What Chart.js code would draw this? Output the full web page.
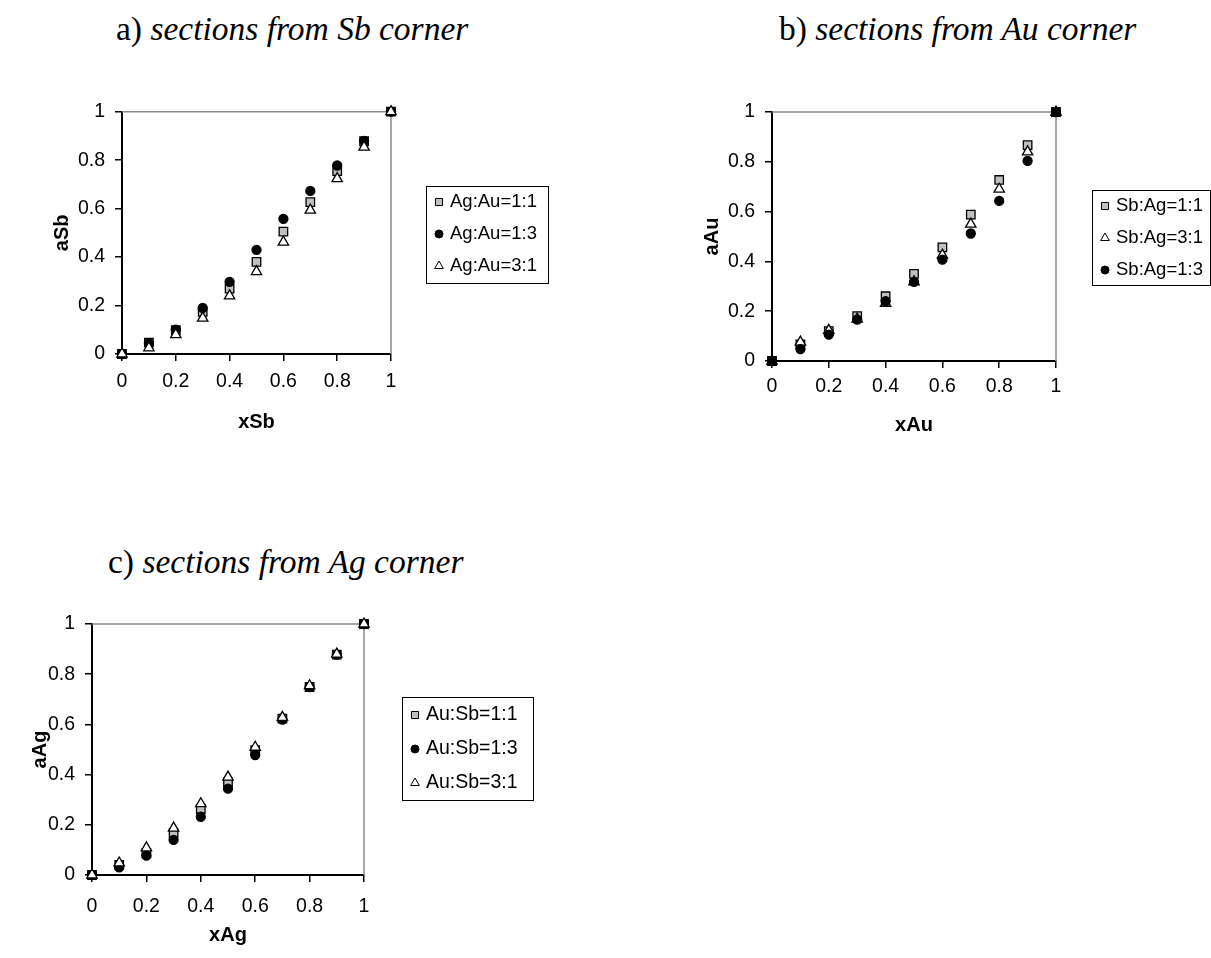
<!DOCTYPE html>
<html>
<head>
<meta charset="utf-8">
<script src="https://cdn.jsdelivr.net/npm/chart.js@4.4.1/dist/chart.umd.min.js"></script>
<style>
  body { margin: 0; background: #fff; width: 1211px; height: 958px; position: relative; overflow: hidden; }
  .title { position: absolute; font-family: "Liberation Serif", "Times New Roman", serif; font-size: 33.5px; line-height: 1; white-space: nowrap; color: #000; }
  .box { position: absolute; }
</style>
</head>
<body>

<div class="title" style="left:116px;top:12px">a) <i>sections from Sb corner</i></div>
<div class="title" style="left:779px;top:12px">b) <i>sections from Au corner</i></div>
<div class="title" style="left:108px;top:545px">c) <i>sections from Ag corner</i></div>

<div class="box" style="left:30px;top:90px;width:530px;height:360px"><canvas id="chartA"></canvas></div>
<div class="box" style="left:680px;top:90px;width:531px;height:360px"><canvas id="chartB"></canvas></div>
<div class="box" style="left:0px;top:590px;width:560px;height:368px"><canvas id="chartC"></canvas></div>

<script>
// ---- data ----
const xValues = [0, 0.1, 0.2, 0.3, 0.4, 0.5, 0.6, 0.7, 0.8, 0.9, 1];

// a) sections from Sb corner
const sbLabels = ['Ag:Au=1:1', 'Ag:Au=1:3', 'Ag:Au=3:1'];
const sbAgAu11 = [0, 0.047, 0.098, 0.174, 0.27, 0.38, 0.505, 0.627, 0.755, 0.878, 1];
const sbAgAu13 = [0, 0.045, 0.101, 0.19, 0.298, 0.43, 0.558, 0.673, 0.778, 0.88, 1];
const sbAgAu31 = [0, 0.025, 0.08, 0.148, 0.24, 0.34, 0.462, 0.594, 0.724, 0.854, 1];

// b) sections from Au corner
const auLabels = ['Sb:Ag=1:1', 'Sb:Ag=3:1', 'Sb:Ag=1:3'];
const auSbAg11 = [0, 0.067, 0.12, 0.18, 0.26, 0.35, 0.456, 0.588, 0.727, 0.867, 1];
const auSbAg31 = [0, 0.076, 0.123, 0.168, 0.232, 0.318, 0.425, 0.55, 0.69, 0.84, 1];
const auSbAg13 = [0, 0.048, 0.106, 0.166, 0.24, 0.318, 0.407, 0.512, 0.643, 0.804, 1];

// c) sections from Ag corner
const agLabels = ['Au:Sb=1:1', 'Au:Sb=1:3', 'Au:Sb=3:1'];
const agAuSb11 = [0, 0.04, 0.088, 0.167, 0.263, 0.37, 0.497, 0.623, 0.749, 0.878, 1];
const agAuSb13 = [0, 0.03, 0.077, 0.14, 0.232, 0.344, 0.478, 0.619, 0.749, 0.878, 1];
const agAuSb31 = [0, 0.048, 0.108, 0.187, 0.284, 0.39, 0.509, 0.628, 0.754, 0.88, 1];

const tickValues = [0, 0.2, 0.4, 0.6, 0.8, 1];
const tickLabels = ['0', '0.2', '0.4', '0.6', '0.8', '1'];

// ---- styles ----
const SANS = '"Liberation Sans", Arial, sans-serif';
const markers = {
  square:   { pointStyle: 'rect',     backgroundColor: '#c0c0c0', borderColor: '#000', pointRadius: 6,   legendRadius: 5 },
  circle:   { pointStyle: 'circle',   backgroundColor: '#000',    borderColor: '#000', pointRadius: 4.5, legendRadius: 4 },
  triangle: { pointStyle: 'triangle', backgroundColor: '#fff',    borderColor: '#000', pointRadius: 6,   legendRadius: 5 }
};

function series(label, values, kind, order) {
  const m = markers[kind];
  return {
    label: label,
    data: xValues.map((x, i) => ({ x: x, y: values[i] })),
    showLine: false,
    pointStyle: m.pointStyle,
    pointRadius: m.pointRadius,
    pointHoverRadius: m.pointRadius,
    backgroundColor: m.backgroundColor,
    borderColor: m.borderColor,
    pointBorderWidth: 1.3,
    legendRadius: m.legendRadius,
    clip: false,
    order: order
  };
}

// grey frame on top/right of the plot area
const framePlugin = {
  id: 'frame',
  beforeDatasetsDraw(chart) {
    const { ctx, chartArea: a } = chart;
    ctx.save();
    ctx.strokeStyle = '#8c8c8c';
    ctx.lineWidth = 1.5;
    ctx.beginPath();
    ctx.moveTo(a.left, a.top);
    ctx.lineTo(a.right, a.top);
    ctx.lineTo(a.right, a.bottom);
    ctx.stroke();
    ctx.restore();
  }
};

// boxed legend like the Excel one
const boxLegendPlugin = {
  id: 'boxLegend',
  afterDraw(chart, args, opts) {
    const ctx = chart.ctx;
    ctx.save();
    ctx.strokeStyle = '#000';
    ctx.lineWidth = 1;
    ctx.strokeRect(opts.left + 0.5, opts.top + 0.5, opts.width, opts.height);
    ctx.font = opts.fontSize + 'px ' + SANS;
    ctx.textBaseline = 'middle';
    chart.data.datasets.forEach((ds, i) => {
      const y = opts.top + opts.first + i * opts.gap;
      ctx.fillStyle = ds.backgroundColor;
      ctx.strokeStyle = ds.borderColor;
      ctx.lineWidth = 1;
      Chart.helpers.drawPoint(ctx, { pointStyle: ds.pointStyle, radius: ds.legendRadius, borderWidth: 1 }, opts.left + 13, y);
      ctx.fillStyle = '#000';
      ctx.fillText(ds.label, opts.left + 24, y);
    });
    ctx.restore();
  }
};

function axis(title, isX, size, titlePad, tickPad) {
  return {
    type: 'linear',
    min: 0,
    max: 1,
    afterBuildTicks: s => { s.ticks = tickValues.map(v => ({ value: v })); },
    afterFit: s => { if (isX) s.height = size; else s.width = size; },
    border: { display: true, color: '#000', width: 2 },
    grid: { display: true, drawOnChartArea: false, drawTicks: true, tickLength: 7, color: '#000', lineWidth: 1.5 },
    ticks: {
      color: '#000', padding: tickPad, font: { family: SANS, size: 19.5 }, maxRotation: 0, autoSkip: false,
      callback: (v, i) => tickLabels[i]
    },
    title: {
      display: true, text: title, color: '#000',
      font: { family: SANS, size: 20, weight: 'bold' },
      padding: isX ? { top: 0, bottom: titlePad } : { top: titlePad, bottom: 0 }
    }
  };
}

function makeChart(id, datasets, xTitle, yTitle, lay, legend) {
  return new Chart(document.getElementById(id), {
    type: 'scatter',
    data: { datasets: datasets },
    options: {
      responsive: true,
      maintainAspectRatio: false,
      animation: false,
      layout: { padding: { left: 0, right: lay.right, top: lay.top, bottom: 0 } },
      scales: {
        x: axis(xTitle, true, lay.xHeight, lay.xTitlePad, lay.xTickPad),
        y: axis(yTitle, false, lay.yWidth, lay.yTitlePad, 10)
      },
      plugins: {
        legend: { display: false },
        tooltip: { enabled: false },
        boxLegend: legend
      }
    },
    plugins: [framePlugin, boxLegendPlugin]
  });
}

makeChart('chartA', [
  series(sbLabels[0], sbAgAu11, 'square', 3),
  series(sbLabels[1], sbAgAu13, 'circle', 2),
  series(sbLabels[2], sbAgAu31, 'triangle', 1)
], 'xSb', 'aSb',
  { right: 169, top: 20, xHeight: 96, yWidth: 92, xTitlePad: 16, yTitlePad: 20, xTickPad: 9 },
  { left: 396, top: 96, width: 122, height: 97, first: 16, gap: 32, fontSize: 18.5 });

makeChart('chartB', [
  series(auLabels[0], auSbAg11, 'square', 3),
  series(auLabels[1], auSbAg31, 'triangle', 2),
  series(auLabels[2], auSbAg13, 'circle', 1)
], 'xAu', 'aAu',
  { right: 155, top: 22, xHeight: 89, yWidth: 92, xTitlePad: 13, yTitlePad: 20, xTickPad: 7 },
  { left: 412, top: 100, width: 118, height: 95, first: 16, gap: 32, fontSize: 18.5 });

makeChart('chartC', [
  series(agLabels[0], agAuSb11, 'square', 3),
  series(agLabels[1], agAuSb13, 'circle', 2),
  series(agLabels[2], agAuSb31, 'triangle', 1)
], 'xAg', 'aAg',
  { right: 196, top: 34, xHeight: 83, yWidth: 92, xTitlePad: 11, yTitlePad: 28, xTickPad: 13 },
  { left: 402, top: 107, width: 131, height: 103, first: 18, gap: 34, fontSize: 19.5 });
</script>
</body>
</html>
